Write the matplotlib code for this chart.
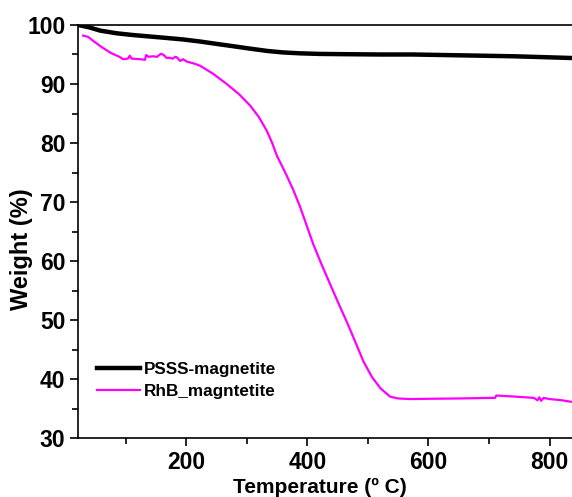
import matplotlib
matplotlib.use("Agg")
import matplotlib.pyplot as plt
from matplotlib.ticker import MultipleLocator

# --- dados (temperatura em ºC, massa em %) ---
t_psss = [22, 40, 58, 85, 112, 140, 168, 195, 223, 250, 278, 305, 334, 360, 388, 420,
          466, 520, 575, 630, 686, 740, 790, 838]
w_psss = [100.0, 99.6, 99.05, 98.6, 98.3, 98.05, 97.8, 97.55, 97.2, 96.8, 96.4, 96.0,
          95.6, 95.35, 95.2, 95.1, 95.05, 95.0, 95.0, 94.9, 94.8, 94.7, 94.55, 94.4]

t_rhb = [30, 38, 48, 60, 75, 90, 96, 104, 107, 110, 118, 125, 132, 134, 138, 145,
         152, 158, 162, 168, 172, 178, 182, 185, 190, 195, 201, 212, 223, 245, 267,
         287, 306, 320, 333, 342, 350, 365, 377, 388, 399, 410, 424, 438, 452, 466,
         480, 493, 507, 521, 530, 537, 550, 570, 603, 650, 705, 710, 712, 730, 760,
         774, 780, 783, 786, 790, 800, 820, 838]
w_rhb = [98.2, 98.0, 97.2, 96.3, 95.3, 94.6, 94.2, 94.3, 94.8, 94.3, 94.25, 94.2,
         94.1, 94.9, 94.6, 94.7, 94.6, 95.1, 95.0, 94.4, 94.45, 94.3, 94.6, 94.5,
         93.9, 94.2, 93.8, 93.5, 93.1, 91.7, 90.0, 88.3, 86.3, 84.4, 82.1, 80.0, 77.8,
         74.7, 72.0, 69.2, 66.0, 62.8, 59.3, 56.0, 52.7, 49.5, 46.1, 42.9, 40.3, 38.4,
         37.6, 37.0, 36.7, 36.6, 36.65, 36.7, 36.8, 36.8, 37.2, 37.1, 36.9, 36.8,
         36.4, 36.9, 36.3, 36.8, 36.6, 36.4, 36.1]

plt.rcParams["font.family"] = ["Liberation Sans", "DejaVu Sans"]
plt.rcParams["font.weight"] = "bold"

fig = plt.figure(figsize=(5.72, 4.97), dpi=100)
ax = fig.add_axes([0.1364, 0.1187, 0.87, 0.831])
ax.plot(t_psss, w_psss, color="black", lw=3.2, label="PSSS-magnetite")
ax.plot(t_rhb, w_rhb, color="#ff00ff", lw=1.6, label="RhB_magntetite")

ax.set_xlim(21.5, 843)
ax.set_ylim(30, 100)
ax.xaxis.set_major_locator(MultipleLocator(200))
ax.xaxis.set_minor_locator(MultipleLocator(100))
ax.yaxis.set_major_locator(MultipleLocator(10))
ax.yaxis.set_minor_locator(MultipleLocator(5))
ax.tick_params(which="major", length=6, width=1.2, labelsize=16.5, pad=3)
ax.tick_params(which="minor", length=4, width=1.2)
for s in ax.spines.values():
    s.set_linewidth(1.2)

ax.set_xlabel("Temperature (º C)", fontsize=15, fontweight="bold")
ax.set_ylabel("Weight (%)", fontsize=17, fontweight="bold")
ax.xaxis.set_label_coords(0.486, -0.097)
ax.yaxis.set_label_coords(-0.090, 0.458)
ax.legend(loc="upper left", bbox_to_anchor=(0.038, 0.183), frameon=False,
          prop={"size": 12.3, "weight": "bold"}, handlelength=2.5,
          handletextpad=0.25, labelspacing=0.36, borderaxespad=0, borderpad=0)

fig.savefig("out.png", dpi=100)
